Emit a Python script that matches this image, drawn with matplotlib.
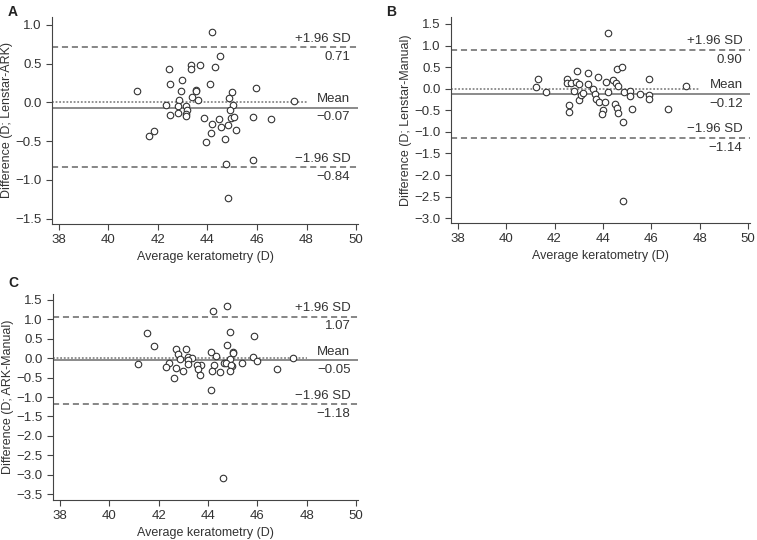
import matplotlib
matplotlib.use('Agg')
import matplotlib.pyplot as plt
import matplotlib.transforms as mtransforms

plt.rcParams['font.family'] = ['Liberation Sans', 'DejaVu Sans']

# Panel A: Lenstar - ARK
a_x = [41.17, 44.18, 44.50, 44.31, 43.33, 43.33, 43.70, 42.45, 42.49, 42.98,
       44.09, 43.54, 43.54, 42.93, 43.39, 43.62, 42.85, 45.95, 45.01, 44.88,
       47.49, 42.34, 42.81, 43.15, 43.18, 43.15, 43.15, 42.81, 42.49, 45.04,
       44.89, 44.97, 45.09, 43.87, 44.46, 44.20, 44.55, 44.81, 45.16, 45.84,
       46.58, 44.15, 41.82, 41.64, 43.96, 44.72, 44.74, 45.83, 44.84]
a_y = [0.15, 0.91, 0.60, 0.46, 0.48, 0.43, 0.48, 0.43, 0.23, 0.29,
       0.24, 0.16, 0.14, 0.15, 0.07, 0.03, 0.03, 0.19, 0.13, 0.06,
       0.02, -0.04, -0.05, -0.05, -0.10, -0.15, -0.18, -0.14, -0.16, -0.03,
       -0.10, -0.20, -0.19, -0.20, -0.22, -0.28, -0.32, -0.29, -0.36, -0.19,
       -0.22, -0.40, -0.37, -0.43, -0.51, -0.48, -0.79, -0.74, -1.23]

# Panel B: Lenstar - Manual
b_x = [44.23, 41.22, 41.33, 41.64, 42.53, 42.53, 42.67, 42.91, 42.90, 43.03,
       42.80, 42.60, 42.60, 43.00, 43.08, 43.16, 43.38, 43.38, 43.57, 43.67,
       43.73, 43.84, 43.81, 44.13, 44.08, 44.01, 44.22, 43.97, 44.42, 44.54,
       44.58, 44.77, 44.62, 44.51, 44.59, 44.63, 44.89, 44.85, 45.12, 45.12,
       45.21, 45.54, 45.89, 45.90, 45.89, 46.70, 47.45, 44.85]
b_y = [1.28, 0.03, 0.22, -0.07, 0.23, 0.13, 0.13, 0.42, 0.15, 0.12,
       -0.05, -0.37, -0.53, -0.27, -0.14, -0.09, 0.36, 0.10, -0.01, -0.12,
       -0.24, -0.30, 0.27, 0.15, -0.31, -0.50, -0.07, -0.59, 0.20, 0.13,
       0.46, 0.50, 0.06, -0.35, -0.44, -0.57, -0.07, -0.77, -0.05, -0.17,
       -0.46, -0.13, -0.15, 0.23, -0.24, -0.47, 0.07, -2.60]

# Panel C: ARK - Manual
c_x = [44.78, 44.20, 41.52, 41.83, 44.88, 45.87, 44.78, 42.71, 43.11, 44.11,
       45.03, 45.00, 42.80, 43.19, 44.31, 45.82, 47.45, 42.85, 43.37, 43.18,
       44.91, 45.99, 41.17, 42.42, 43.18, 43.70, 43.55, 44.65, 44.74, 45.39,
       44.25, 44.96, 44.92, 42.30, 42.69, 43.58, 42.99, 44.17, 44.48, 44.90,
       43.66, 42.62, 46.79, 44.11, 44.62]
c_y = [1.35, 1.21, 0.64, 0.30, 0.66, 0.57, 0.33, 0.23, 0.23, 0.17,
       0.17, 0.12, 0.11, 0.03, 0.05, 0.04, 0.00, -0.03, 0.00, -0.06,
       -0.01, -0.08, -0.15, -0.13, -0.14, -0.17, -0.18, -0.13, -0.13, -0.12,
       -0.17, -0.21, -0.17, -0.22, -0.26, -0.27, -0.33, -0.32, -0.35, -0.34,
       -0.43, -0.52, -0.28, -0.83, -3.09]

means = [-0.07, -0.12, -0.05]
uppers = [0.71, 0.90, 1.07]
lowers = [-0.84, -1.14, -1.18]
ylabels = ['Difference (D; Lenstar-ARK)', 'Difference (D; Lenstar-Manual)',
           'Difference (D; ARK-Manual)']
letters = ['A', 'B', 'C']
yticks = [[1.0, 0.5, 0.0, -0.5, -1.0, -1.5],
          [1.5, 1.0, 0.5, 0.0, -0.5, -1.0, -1.5, -2.0, -2.5, -3.0],
          [1.5, 1.0, 0.5, 0.0, -0.5, -1.0, -1.5, -2.0, -2.5, -3.0, -3.5]]
ylims = [(-1.57, 1.10), (-3.11, 1.66), (-3.65, 1.65)]
xticks = [38, 40, 42, 44, 46, 48, 50]

W, H = 757, 540
fig = plt.figure(figsize=(W / 100, H / 100), dpi=100)

# axes boxes in pixels: left, top, right, bottom
boxes = [(52, 17, 358, 224), (451, 17, 750, 223), (53, 294, 358, 500)]
data = [(a_x, a_y), (b_x, b_y), (c_x, c_y)]
letter_pos = [(8, 12), (386, 12), (8, 283)]

grey = '#666666'
txt = '#333333'

for i in range(3):
    l, t, r, b = boxes[i]
    ax = fig.add_axes([l / W, 1 - b / H, (r - l) / W, (b - t) / H])
    x, y = data[i]
    ax.set_xlim(37.72, 50.08)
    ax.set_ylim(*ylims[i])
    ax.axhline(uppers[i], color=grey, lw=1.1, ls=(0, (4, 2.5)))
    ax.axhline(lowers[i], color=grey, lw=1.1, ls=(0, (4, 2.5)))
    ax.axhline(means[i], color='#777777', lw=1.2)
    ax.plot([37.72, 48], [0, 0], color='#888888', lw=1.3, ls=(0, (1, 1)))
    ax.scatter(x, y, s=22, facecolors='white', edgecolors='#333333',
               linewidths=0.8, zorder=3)

    tr = mtransforms.blended_transform_factory(ax.transAxes, ax.transData)
    off = (ax.get_ylim()[1] - ax.get_ylim()[0]) * 0.012
    for val, lab in [(uppers[i], '+1.96 SD'), (means[i], 'Mean'),
                     (lowers[i], '\u22121.96 SD')]:
        ax.text(0.975, val + off, lab, transform=tr, ha='right', va='bottom',
                fontsize=9.5, color=txt)
        ax.text(0.975, val - off * 1.5, ('%.2f' % val).replace('-', '\u2212'),
                transform=tr, ha='right', va='top', fontsize=9.5, color=txt)

    ax.set_xticks(xticks)
    ax.set_yticks(yticks[i])
    ax.set_yticklabels([('%.1f' % v).replace('-', '\u2212') for v in yticks[i]])
    ax.tick_params(direction='out', length=4, width=0.8, colors='#444444',
                   labelsize=9.5, labelcolor=txt)
    for s in ['top', 'right']:
        ax.spines[s].set_visible(False)
    for s in ['left', 'bottom']:
        ax.spines[s].set_color('#444444')
        ax.spines[s].set_linewidth(0.8)
    ax.set_xlabel('Average keratometry (D)', fontsize=9, color=txt, labelpad=3)
    ax.set_ylabel(ylabels[i], fontsize=9, color=txt, labelpad=2)

    lx, ly = letter_pos[i]
    fig.text(lx / W, 1 - ly / H, letters[i], fontsize=10, fontweight='bold',
             ha='left', va='center', color='#222222')

fig.savefig('out.png', dpi=100)
